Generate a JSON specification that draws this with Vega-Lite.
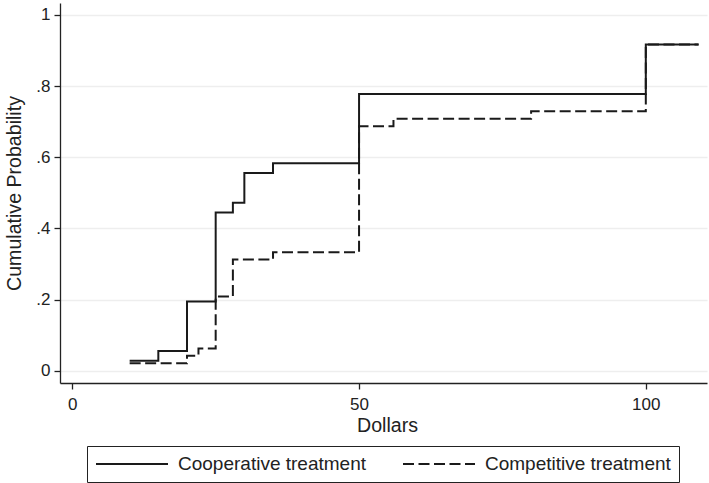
{
  "$schema": "https://vega.github.io/schema/vega-lite/v6.json",
  "autosize": "none",
  "padding": {"left": 60, "top": 3, "right": 2, "bottom": 100},
  "width": 647,
  "height": 380,
  "background": "white",
  "config": {
    "view": {"stroke": null},
    "font": "Liberation Sans",
    "axis": {
      "labelFont": "Liberation Sans",
      "titleFont": "Liberation Sans",
      "labelFontSize": 17,
      "titleFontSize": 19.6,
      "titleFontWeight": "normal",
      "labelColor": "#222222",
      "titleColor": "#222222",
      "domainColor": "#222222",
      "tickColor": "#222222",
      "domainWidth": 1.3,
      "tickWidth": 1.3,
      "tickSize": 6
    },
    "legend": {
      "labelFont": "Liberation Sans"
    }
  },
  "data": {
    "values": [
      {"dollars": 10, "prob": 0.0278, "treatment": "Cooperative treatment"},
      {"dollars": 15, "prob": 0.0556, "treatment": "Cooperative treatment"},
      {"dollars": 20, "prob": 0.1944, "treatment": "Cooperative treatment"},
      {"dollars": 25, "prob": 0.4444, "treatment": "Cooperative treatment"},
      {"dollars": 28, "prob": 0.4722, "treatment": "Cooperative treatment"},
      {"dollars": 30, "prob": 0.5556, "treatment": "Cooperative treatment"},
      {"dollars": 35, "prob": 0.5833, "treatment": "Cooperative treatment"},
      {"dollars": 50, "prob": 0.7778, "treatment": "Cooperative treatment"},
      {"dollars": 100, "prob": 0.9167, "treatment": "Cooperative treatment"},
      {"dollars": 109.2, "prob": 0.9167, "treatment": "Cooperative treatment"},
      {"dollars": 10, "prob": 0.0208, "treatment": "Competitive treatment"},
      {"dollars": 20, "prob": 0.0417, "treatment": "Competitive treatment"},
      {"dollars": 22, "prob": 0.0625, "treatment": "Competitive treatment"},
      {"dollars": 25, "prob": 0.2083, "treatment": "Competitive treatment"},
      {"dollars": 28, "prob": 0.3125, "treatment": "Competitive treatment"},
      {"dollars": 35, "prob": 0.3333, "treatment": "Competitive treatment"},
      {"dollars": 50, "prob": 0.6875, "treatment": "Competitive treatment"},
      {"dollars": 56, "prob": 0.7083, "treatment": "Competitive treatment"},
      {"dollars": 80, "prob": 0.7292, "treatment": "Competitive treatment"},
      {"dollars": 100, "prob": 0.9167, "treatment": "Competitive treatment"},
      {"dollars": 109.2, "prob": 0.9167, "treatment": "Competitive treatment"}
    ]
  },
  "mark": {"type": "line", "interpolate": "step-after", "strokeWidth": 2, "color": "#1a1a1a"},
  "encoding": {
    "x": {
      "field": "dollars",
      "type": "quantitative",
      "scale": {"domain": [-2.145, 110.67], "nice": false, "zero": false},
      "axis": {
        "values": [0, 50, 100],
        "grid": false,
        "title": "Dollars",
        "labelPadding": 7,
        "titleX": 327,
        "titleY": 48,
        "titleBaseline": "alphabetic",
        "titleAlign": "center"
      }
    },
    "y": {
      "field": "prob",
      "type": "quantitative",
      "scale": {"domain": [-0.0346, 1.0337], "nice": false, "zero": false},
      "axis": {
        "values": [0, 0.2, 0.4, 0.6, 0.8, 1],
        "labelExpr": "replace(format(datum.value, '.1~f'), '0.', '.')",
        "grid": true,
        "gridColor": "#eeeeee",
        "gridWidth": 1.5,
        "title": "Cumulative Probability",
        "labelPadding": 4,
        "titleX": -46,
        "titleY": 190,
        "titleAngle": 270,
        "titleBaseline": "middle",
        "titleAlign": "center"
      }
    },
    "strokeDash": {
      "field": "treatment",
      "type": "nominal",
      "scale": {
        "domain": ["Cooperative treatment", "Competitive treatment"],
        "range": [[1, 0], [11, 4.5]]
      },
      "legend": {
        "title": null,
        "orient": "none",
        "legendX": 27,
        "legendY": 443,
        "direction": "horizontal",
        "strokeColor": "#222222",
        "fillColor": "white",
        "padding": 8,
        "symbolType": "M-4,0H4",
        "symbolSize": 324,
        "symbolOffset": 27,
        "symbolStrokeWidth": 2,
        "symbolStrokeColor": "#1a1a1a",
        "labelFontSize": 19,
        "labelLimit": 0,
        "labelColor": "#222222",
        "labelOffset": 36,
        "columnPadding": 33
      }
    }
  }
}
